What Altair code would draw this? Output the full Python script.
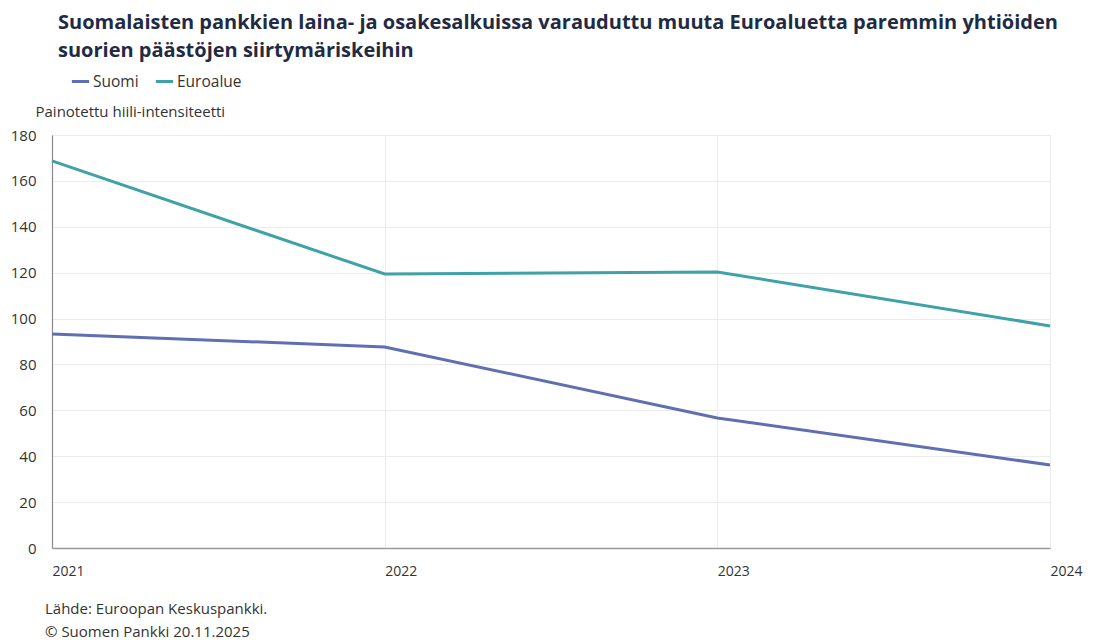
import altair as alt
import pandas as pd

years = [2021, 2022, 2023, 2024]
suomi = [93.3, 87.6, 56.7, 36.2]
euroalue = [168.7, 119.4, 120.3, 96.8]
series_names = ["Suomi", "Euroalue"]
colors = ["#5f6fb1", "#3fa2a6"]

title_lines = [
    "Suomalaisten pankkien laina- ja osakesalkuissa varauduttu muuta Euroaluetta paremmin yhtiöiden",
    "suorien päästöjen siirtymäriskeihin",
]
footer_lines = ["Lähde: Euroopan Keskuspankki.", "© Suomen Pankki 20.11.2025"]
y_title = "Painotettu hiili-intensiteetti"

rows = []
for name, vals in zip(series_names, [suomi, euroalue]):
    for yr, v in zip(years, vals):
        rows.append({"vuosi": yr, "arvo": v, "sarja": name})
df = pd.DataFrame(rows)

FONT = "Open Sans"
W, H = 998, 413

lines = alt.Chart(df).mark_line(strokeWidth=3).encode(
    x=alt.X("vuosi:Q", scale=alt.Scale(domain=[2021, 2024], nice=False, zero=False),
            axis=alt.Axis(values=years, format="d", title=None, labelAlign="left",
                          labelBaseline="top", labelPadding=16, labelFontSize=14,
                          labelColor="#333", labelFont=FONT, ticks=False,
                          domainColor="#9a9a9a", domainWidth=1.5,
                          grid=True, gridColor="#ececec")),
    y=alt.Y("arvo:Q", scale=alt.Scale(domain=[0, 180], nice=False),
            axis=alt.Axis(values=list(range(0, 181, 20)), title=y_title, titleAngle=0,
                          titleX=-17, titleY=-24, titleAlign="left", titleBaseline="middle",
                          titleFont=FONT, titleFontSize=15, titleFontWeight="normal",
                          titleColor="#333", labelFontSize=15, labelColor="#333",
                          labelFont=FONT, labelPadding=16, ticks=False,
                          domainColor="#8a8a8a", domainWidth=1.2,
                          grid=True, gridColor="#ececec")),
    color=alt.Color("sarja:N", scale=alt.Scale(domain=series_names, range=colors),
                    legend=alt.Legend(title=None, orient="none", legendX=18, legendY=-64,
                                      direction="horizontal", symbolType="stroke",
                                      symbolStrokeWidth=3, symbolSize=300,
                                      labelFont=FONT, labelFontSize=15.5, labelColor="#333",
                                      columnPadding=10, labelOffset=2)),
)

one = pd.DataFrame({"k": [0]})

def text_mark(txt, x, y, size, weight="normal", color="#333"):
    return alt.Chart(one).mark_text(
        align="left", baseline="alphabetic", font=FONT, fontSize=size,
        fontWeight=weight, color=color,
    ).encode(text=alt.value(txt), x=alt.value(x), y=alt.value(y))

t1 = text_mark(title_lines[0], 6, -106, 20, "bold", "#1f2b45")
t2 = text_mark(title_lines[1], 6, -78, 20, "bold", "#1f2b45")
f1 = text_mark(footer_lines[0], -7, 479, 15)
f2 = text_mark(footer_lines[1], -7, 502, 15)

chart = alt.layer(lines, t1, t2, f1, f2).properties(
    width=W, height=H,
    autosize=alt.AutoSizeParams(type="none"),
    padding={"left": 52, "top": 135, "right": 44, "bottom": 92},
).configure_view(stroke=None).configure(background="white")

chart.save("out.html", embed_options={"renderer": "svg", "actions": False})
